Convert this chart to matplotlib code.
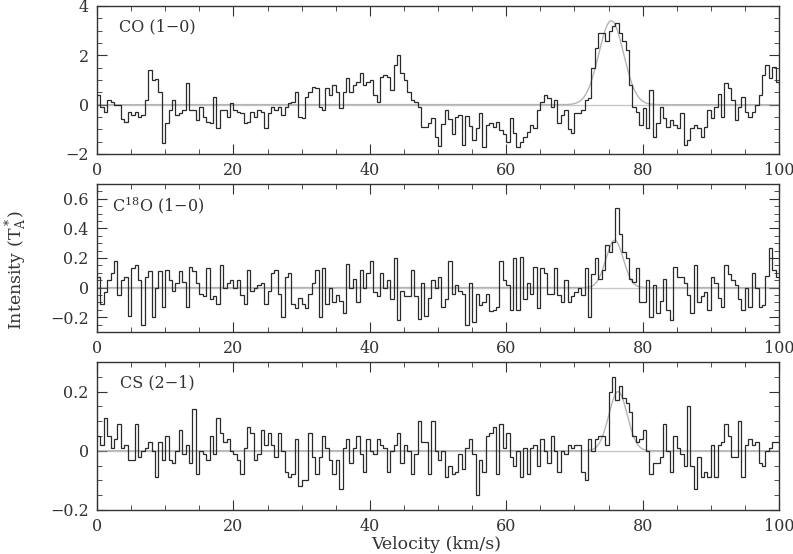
import numpy as np
import matplotlib
matplotlib.use("Agg")
import matplotlib.pyplot as plt
from matplotlib.ticker import MultipleLocator, FuncFormatter

# ==========================================================
# Spectra (0.5 km/s channels, 0 - 100 km/s)
# ==========================================================

channel_width = 0.5
v_start = 0.0

co_10 = [
    0.39, -0.1, -0.3, 0.19, 0.12, -0.01, -0.01, -0.6, -0.69, -0.3,
    -0.4, -0.3, -0.5, -0.42, 0.19, 1.4, 1.0, 1.05, 0.5, -1.57,
    -0.75, -0.22, 0.19, -0.42, -0.35, -0.22, 0.86, -0.22, -0.22, -0.62,
    -0.08, -0.49, -0.69, -0.75, 0.32, -0.96, -0.22, -0.22, -0.49, 0.05,
    -0.22, -0.28, -0.35, -0.75, -0.69, -0.28, -0.49, -0.22, -0.3, -0.96,
    -0.33, -0.08, -0.2, -0.08, -0.4, -0.1, 0.05, 0.12, 0.53, -0.49,
    -0.55, 0.32, 0.5, 0.73, 0.66, -0.08, -0.22, 0.66, 0.4, 0.8,
    0.53, -0.15, 0.5, 1.07, 0.53, 0.8, 0.93, 1.27, 0.8, 0.9,
    1.0, 0.39, 0.12, 1.13, 1.2, 1.13, 0.6, 1.6, 2.01, 1.3,
    1.0, 0.53, 0.19, 0.12, -0.08, -0.89, -0.89, -0.76, -0.55, -1.3,
    -1.68, -0.8, -0.2, -0.6, -1.2, -0.5, -0.42, -1.63, -0.45, -0.85,
    -1.43, -0.95, -0.35, -1.7, -0.82, -0.76, -0.9, -0.69, -1.03, -1.2,
    -1.5, -0.55, -1.16, -1.7, -1.53, -1.3, -1.1, -0.82, -0.96, -0.22,
    0.12, 0.39, 0.26, -0.08, 0.19, -0.76, -0.42, -0.22, -1.0, -1.16,
    -0.35, -0.35, -0.22, 0.19, 0.26, 1.5, 2.3, 2.9, 2.9, 2.6,
    3.0, 3.2, 3.3, 2.9, 2.6, 2.2, 0.8, -0.1, -0.3, -0.82,
    -0.15, -0.96, 0.6, -1.3, -0.76, -0.08, -0.55, -0.89, -0.62, -0.82,
    -0.96, -0.35, -1.63, -1.43, -0.96, -0.82, -0.96, -1.3, -0.9, -0.22,
    -0.55, -0.08, 0.45, -0.49, 0.86, 0.66, 0.2, -0.62, -0.08, 0.3,
    -0.28, -0.49, -0.28, 0.0, 0.39, 1.2, 1.6, 1.07, 1.54, 0.93,
]

c18o_10 = [
    0.07, -0.11, -0.03, 0.05, 0.1, 0.18, -0.05, 0.05, 0.07, -0.19,
    0.13, 0.15, 0.05, -0.25, 0.07, 0.11, -0.2, 0.0, 0.11, -0.13,
    0.12, 0.05, -0.02, 0.03, 0.11, 0.04, -0.13, 0.14, 0.11, 0.03,
    -0.04, -0.06, 0.13, -0.08, -0.06, -0.11, 0.15, 0.0, 0.03, 0.05,
    0.0, 0.05, -0.05, -0.11, 0.12, -0.02, 0.0, 0.02, 0.03, -0.11,
    -0.02, 0.1, 0.12, -0.04, -0.2, 0.07, 0.1, -0.11, -0.14, -0.07,
    -0.11, -0.14, -0.04, 0.03, 0.12, -0.2, 0.13, -0.11, 0.0, -0.1,
    -0.05, -0.09, -0.17, 0.16, 0.0, 0.06, -0.1, 0.12, 0.0, 0.1,
    0.18, -0.03, -0.06, 0.1, 0.0, 0.05, -0.08, 0.2, -0.22, -0.02,
    -0.06, -0.06, 0.12, -0.06, -0.21, 0.03, -0.19, -0.07, 0.05, 0.0,
    0.07, -0.13, -0.08, 0.18, -0.04, 0.02, -0.02, -0.04, -0.25, 0.03,
    -0.23, -0.04, -0.12, -0.1, -0.04, -0.16, -0.15, -0.13, 0.18, 0.05,
    0.02, -0.15, 0.2, -0.15, 0.21, -0.08, 0.03, -0.04, 0.14, -0.14,
    0.13, 0.1, -0.04, -0.04, 0.13, -0.05, -0.1, 0.05, -0.1, -0.06,
    -0.03, 0.0, -0.05, 0.13, -0.2, 0.09, 0.2, 0.06, 0.12, 0.29,
    0.24, 0.31, 0.54, 0.36, 0.24, 0.2, 0.06, 0.04, 0.13, -0.1,
    -0.1, 0.05, -0.2, 0.02, -0.17, -0.09, 0.06, -0.15, -0.22, 0.14,
    0.07, 0.07, 0.03, -0.05, -0.17, 0.15, -0.1, -0.06, -0.03, -0.15,
    0.07, 0.03, -0.07, -0.13, 0.15, 0.09, 0.05, 0.02, -0.08, -0.15,
    0.0, -0.13, 0.1, 0.0, -0.13, -0.12, 0.08, 0.27, 0.12, 0.07,
]

cs_21 = [
    0.05, 0.02, 0.11, 0.05, 0.01, 0.04, 0.09, 0.01, 0.02, -0.03,
    -0.03, 0.09, -0.02, 0.0, 0.01, 0.03, 0.0, -0.09, 0.03, -0.03,
    0.05, -0.03, -0.04, 0.0, 0.07, -0.01, 0.02, -0.04, 0.14, -0.08,
    0.0, -0.01, -0.03, 0.05, -0.01, 0.11, 0.06, 0.03, 0.04, 0.0,
    -0.01, -0.03, -0.08, 0.01, 0.08, 0.06, -0.03, -0.01, 0.07, 0.02,
    0.06, 0.02, -0.02, 0.06, 0.0, -0.07, -0.09, -0.08, 0.04, -0.12,
    -0.1, -0.1, 0.06, -0.02, -0.08, -0.02, 0.05, 0.01, -0.03, -0.08,
    -0.03, -0.13, 0.01, 0.04, -0.04, 0.01, 0.05, -0.01, -0.07, 0.04,
    0.0, -0.01, 0.04, 0.02, 0.01, -0.07, 0.0, 0.02, 0.06, -0.04,
    0.02, 0.0, -0.08, -0.01, 0.1, 0.03, 0.03, -0.08, 0.1, 0.0,
    -0.03, 0.0, -0.09, -0.05, -0.08, -0.07, -0.01, -0.06, 0.01, 0.04,
    -0.01, -0.15, -0.03, -0.07, 0.05, 0.06, 0.08, -0.08, 0.09, 0.01,
    0.06, -0.02, -0.05, 0.0, -0.09, 0.01, -0.08, 0.01, 0.02, -0.05,
    0.04, 0.0, -0.04, 0.05, 0.0, -0.07, 0.0, -0.01, 0.02, 0.01,
    0.02, 0.02, -0.07, -0.1, 0.04, 0.0, 0.04, 0.05, 0.05, 0.02,
    0.2, 0.25, 0.17, 0.22, 0.18, 0.16, 0.13, 0.05, 0.03, 0.04,
    0.07, 0.0, -0.08, -0.04, -0.04, -0.02, 0.09, 0.0, -0.07, 0.05,
    0.01, -0.01, -0.05, 0.15, -0.05, -0.13, -0.02, -0.09, -0.07, -0.09,
    0.02, -0.09, 0.02, 0.03, 0.09, 0.05, -0.02, -0.02, 0.1, -0.09,
    0.02, 0.04, 0.02, 0.03, -0.04, -0.05, 0.0, 0.01, 0.03, 0.03,
]

# Gaussian fits: (peak, centre, fwhm)
co_fit = (3.4, 75.4, 4.3)
c18o_fit = (0.32, 75.9, 3.0)
cs_fit = (0.2, 76.4, 3.2)

panel_labels = ["CO (1\u22120)", "C$^{18}$O (1\u22120)", "CS (2\u22121)"]
y_limits = [(-2, 4), (-0.3, 0.7), (-0.2, 0.3)]
y_major = [2, 0.2, 0.2]
y_minor = [0.5, 0.05, 0.05]

# ==========================================================
# Figure
# ==========================================================

plt.rcParams["font.family"] = "DejaVu Serif"
plt.rcParams["mathtext.fontset"] = "dejavuserif"
plt.rcParams["font.size"] = 11
plt.rcParams["text.color"] = "#333333"
plt.rcParams["xtick.labelcolor"] = "#333333"
plt.rcParams["ytick.labelcolor"] = "#333333"

fig = plt.figure(figsize=(7.93, 5.54), dpi=100)

left = 97 / 793
width = 682 / 793
height = 148 / 554
bottoms = [1 - 154 / 554, 1 - 332 / 554, 1 - 510 / 554]
label_x = [0.032, 0.022, 0.034]

spectra = [co_10, c18o_10, cs_21]
fits = [co_fit, c18o_fit, cs_fit]

fmt = FuncFormatter(lambda v, p: ("%g" % v).replace("-", "\u2212"))

for k in range(3):
    ax = fig.add_axes([left, bottoms[k], width, height])
    vals = np.array(spectra[k])
    edges = v_start + channel_width * np.arange(len(vals) + 1)

    ax.axhline(0, color="#c8c8c8", lw=1.0, zorder=1)

    peak, centre, fwhm = fits[k]
    sigma = fwhm / 2.3548
    vfit = np.linspace(0, 100, 1001)
    ax.plot(vfit, peak * np.exp(-0.5 * ((vfit - centre) / sigma) ** 2),
            color="#b4b4b4", lw=1.0, zorder=2)

    ax.stairs(vals, edges, baseline=None, color="#2a2a2a", lw=0.9, zorder=3)

    ax.set_xlim(0, 100)
    ax.set_ylim(*y_limits[k])

    ax.xaxis.set_major_locator(MultipleLocator(20))
    ax.xaxis.set_minor_locator(MultipleLocator(5))
    ax.yaxis.set_major_locator(MultipleLocator(y_major[k]))
    ax.yaxis.set_minor_locator(MultipleLocator(y_minor[k]))
    ax.yaxis.set_major_formatter(fmt)

    ax.tick_params(which="both", direction="in", top=True, right=True,
                   color="#333333", labelsize=11.5, pad=6)
    ax.tick_params(which="major", length=7)
    ax.tick_params(which="minor", length=3.5)
    for s in ax.spines.values():
        s.set_color("#333333")
        s.set_linewidth(1.0)

    ax.text(label_x[k], 0.86, panel_labels[k], transform=ax.transAxes,
            fontsize=11.5, va="center", ha="left")

fig.text(0.02, 0.513, r"Intensity (T$_\mathrm{A}^*$)", rotation=90,
         ha="center", va="center", fontsize=12.5)
fig.text(0.55, 0.017, "Velocity (km/s)", ha="center", va="center",
         fontsize=12.5)

plt.savefig("out.png", dpi=100)
